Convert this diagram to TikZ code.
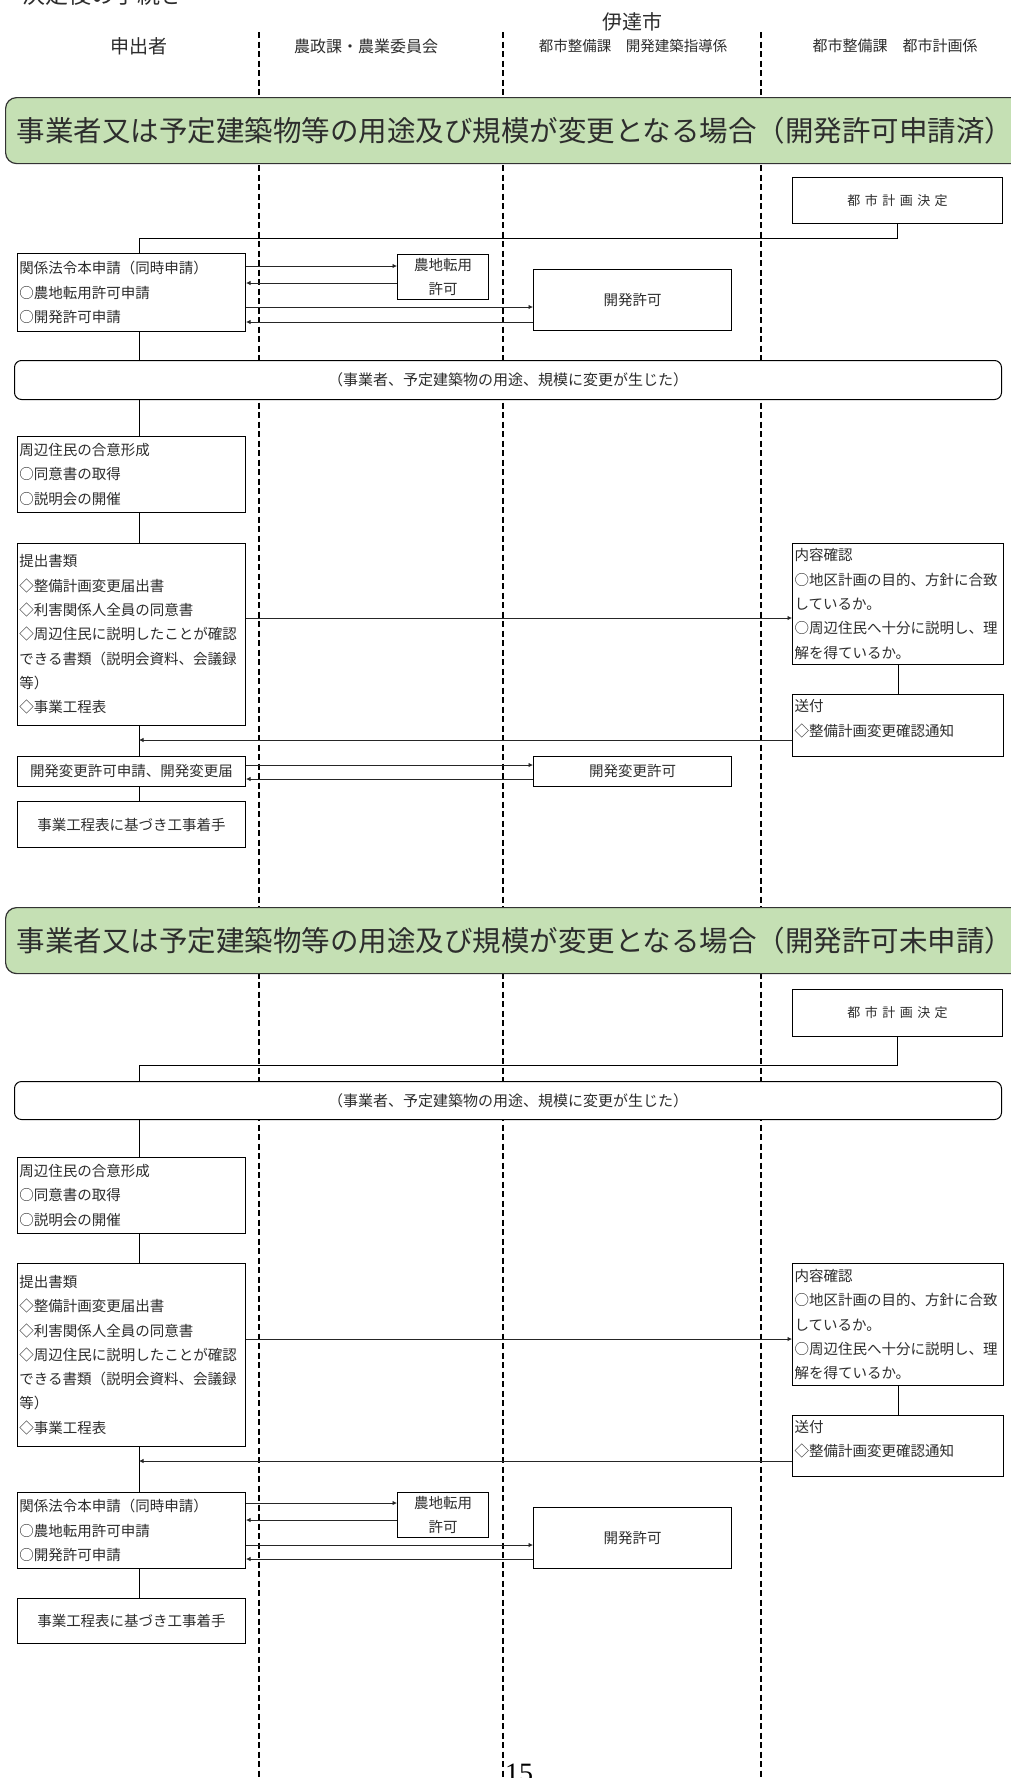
\documentclass[tikz,border=0pt]{standalone}
\usepackage{fontspec}
\setmainfont{Noto Sans CJK JP}
\newfontfamily\pnfont{Liberation Serif}
\usetikzlibrary{arrows.meta,calc}
\definecolor{bannergreen}{RGB}{197,224,180}
\definecolor{ink}{RGB}{45,45,45}
\begin{document}
\begin{tikzpicture}[x=1pt,y=-1pt,
  lane/.style={line width=1.3pt, dash pattern=on 6pt off 3.5pt, draw=black},
  box/.style={draw=black, line width=1pt, fill=white, inner xsep=2pt, inner ysep=0pt,
    anchor=north west, font=\fontsize{14.5}{24.3}\selectfont, text=ink},
  lbox/.style={box, align=left},
  cbox/.style={box, align=center},
  evbox/.style={box, align=center, rounded corners=7pt, font=\fontsize{15}{24.3}\selectfont},
  banner/.style={draw=black!80, line width=1.2pt, fill=bannergreen, rounded corners=11pt,
    anchor=north west, minimum height=66pt, text width=1000pt, inner xsep=11pt, inner ysep=0pt,
    align=left, text=ink, font=\fontsize{28.5}{32}\selectfont},
  hdr/.style={inner sep=0pt, text=ink},
  link/.style={line width=1pt, draw=black},
  arr/.style={line width=0.8pt, draw=black!85, -{Latex[length=4.5pt,width=4.5pt]}},
  ]
\useasboundingbox (0,0) rectangle (1011,1778);
\fill[white] (0,0) rectangle (1011,1778);

% lanes
\draw[lane] (259,32) -- (259,1778);
\draw[lane] (503,32) -- (503,1778);
\draw[lane] (761,32) -- (761,1778);

% headers
\node[hdr, anchor=base west, font=\fontsize{23}{23}\selectfont] (ttl) at (22,3) {決定後の手続き};
\node[hdr, font=\fontsize{20}{20}\selectfont] (city) at (632,22) {伊達市};
\node[hdr, font=\fontsize{19}{19}\selectfont] (h1) at (139,46) {申出者};
\node[hdr, font=\fontsize{16}{16}\selectfont] (h2) at (366,46) {農政課・農業委員会};
\node[hdr, font=\fontsize{14.5}{14.5}\selectfont] (h3) at (633,46) {都市整備課　開発建築指導係};
\node[hdr, font=\fontsize{15}{15}\selectfont] (h4) at (895,46) {都市整備課　都市計画係};

\coordinate (lx) at (139,0);

% ===== Section 1 =====
\node[banner] (bn1) at (5,97) {事業者又は予定建築物等の用途及び規模が変更となる場合（開発許可申請済）};

\node[cbox, minimum width=210pt, minimum height=46pt, font=\fontsize{13}{13}\selectfont] (tk1) at (792,177)
  {都\hspace{4.5pt}市\hspace{4.5pt}計\hspace{4.5pt}画\hspace{4.5pt}決\hspace{4.5pt}定};
\node[lbox, text width=224pt, minimum height=78pt] (ho1) at (17,253)
  {関係法令本申請（同時申請）\\○農地転用許可申請\\○開発許可申請};
\node[cbox, minimum width=91pt, minimum height=45pt] (nc1) at (397,254) {農地転用\\許可};
\node[cbox, minimum width=198pt, minimum height=61pt] (kk1) at (533,269) {開発許可};
\node[evbox, minimum width=987pt, minimum height=39pt] (ev1) at (14,360)
  {（事業者、予定建築物の用途、規模に変更が生じた）};
\node[lbox, text width=224pt, minimum height=76pt] (sj1) at (17,436)
  {周辺住民の合意形成\\○同意書の取得\\○説明会の開催};
\node[lbox, text width=224pt, minimum height=182pt] (ts1) at (17,543)
  {提出書類\\◇整備計画変更届出書\\◇利害関係人全員の同意書\\◇周辺住民に説明したことが確認\\できる書類（説明会資料、会議録\\等）\\◇事業工程表};
\node[lbox, text width=207pt, minimum height=121pt] (nk1) at (792,543)
  {内容確認\\○地区計画の目的、方針に合致\\しているか。\\○周辺住民へ十分に説明し、理\\解を得ているか。};
\node[lbox, text width=207pt, minimum height=62pt] (sf1) at (792,694)
  {送付\\◇整備計画変更確認通知\\[-9pt]\mbox{}};
\node[cbox, minimum width=228pt, minimum height=30pt] (hh1) at (17,756) {開発変更許可申請、開発変更届};
\node[cbox, minimum width=198pt, minimum height=30pt] (hk1) at (533,756) {開発変更許可};
\node[cbox, minimum width=228pt, minimum height=46pt] (kc1) at (17,801) {事業工程表に基づき工事着手};

\draw[link] (tk1.south) -- (tk1.south |- 0,238) -| (lx |- ho1.north);
\draw[link] (lx |- ho1.south) -- (lx |- ev1.north);
\draw[link] (lx |- ev1.south) -- (lx |- sj1.north);
\draw[link] (lx |- sj1.south) -- (lx |- ts1.north);
\draw[link] (lx |- ts1.south) -- (lx |- hh1.north);
\draw[link] (lx |- hh1.south) -- (lx |- kc1.north);
\draw[link] (nk1.south) -- (sf1.north);

\draw[arr] (ho1.east |- 0,266) -- (nc1.west |- 0,266);
\draw[arr] (nc1.west |- 0,283) -- (ho1.east |- 0,283);
\draw[arr] (ho1.east |- 0,307) -- (kk1.west |- 0,307);
\draw[arr] (kk1.west |- 0,322) -- (ho1.east |- 0,322);
\draw[arr] (ts1.east |- 0,618) -- (nk1.west |- 0,618);
\draw[arr] (sf1.west |- 0,740) -- (lx |- 0,740);
\draw[arr] (hh1.east |- 0,765) -- (hk1.west |- 0,765);
\draw[arr] (hk1.west |- 0,779) -- (hh1.east |- 0,779);

% ===== Section 2 =====
\node[banner] (bn2) at (5,907) {事業者又は予定建築物等の用途及び規模が変更となる場合（開発許可未申請）};

\node[cbox, minimum width=210pt, minimum height=47pt, font=\fontsize{13}{13}\selectfont] (tk2) at (792,989)
  {都\hspace{4.5pt}市\hspace{4.5pt}計\hspace{4.5pt}画\hspace{4.5pt}決\hspace{4.5pt}定};
\node[evbox, minimum width=987pt, minimum height=38pt] (ev2) at (14,1081)
  {（事業者、予定建築物の用途、規模に変更が生じた）};
\node[lbox, text width=224pt, minimum height=76pt] (sj2) at (17,1157)
  {周辺住民の合意形成\\○同意書の取得\\○説明会の開催};
\node[lbox, text width=224pt, minimum height=183pt] (ts2) at (17,1263)
  {提出書類\\◇整備計画変更届出書\\◇利害関係人全員の同意書\\◇周辺住民に説明したことが確認\\できる書類（説明会資料、会議録\\等）\\◇事業工程表};
\node[lbox, text width=207pt, minimum height=122pt] (nk2) at (792,1263)
  {内容確認\\○地区計画の目的、方針に合致\\しているか。\\○周辺住民へ十分に説明し、理\\解を得ているか。};
\node[lbox, text width=207pt, minimum height=61pt] (sf2) at (792,1415)
  {送付\\◇整備計画変更確認通知\\[-9pt]\mbox{}};
\node[lbox, text width=224pt, minimum height=76pt] (ho2) at (17,1492)
  {関係法令本申請（同時申請）\\○農地転用許可申請\\○開発許可申請};
\node[cbox, minimum width=91pt, minimum height=45pt] (nc2) at (397,1492) {農地転用\\許可};
\node[cbox, minimum width=198pt, minimum height=61pt] (kk2) at (533,1507) {開発許可};
\node[cbox, minimum width=228pt, minimum height=45pt] (kc2) at (17,1598) {事業工程表に基づき工事着手};

\draw[link] (tk2.south) -- (tk2.south |- 0,1065) -| (lx |- ev2.north);
\draw[link] (lx |- ev2.south) -- (lx |- sj2.north);
\draw[link] (lx |- sj2.south) -- (lx |- ts2.north);
\draw[link] (lx |- ts2.south) -- (lx |- ho2.north);
\draw[link] (lx |- ho2.south) -- (lx |- kc2.north);
\draw[link] (nk2.south) -- (sf2.north);

\draw[arr] (ts2.east |- 0,1339) -- (nk2.west |- 0,1339);
\draw[arr] (sf2.west |- 0,1461) -- (lx |- 0,1461);
\draw[arr] (ho2.east |- 0,1503) -- (nc2.west |- 0,1503);
\draw[arr] (nc2.west |- 0,1520) -- (ho2.east |- 0,1520);
\draw[arr] (ho2.east |- 0,1545) -- (kk2.west |- 0,1545);
\draw[arr] (kk2.west |- 0,1559) -- (ho2.east |- 0,1559);

% page number
\node[hdr, anchor=base west, font=\pnfont\fontsize{28}{28}\selectfont, text=black] (pg) at (505,1782) {15};
\end{tikzpicture}
\end{document}
